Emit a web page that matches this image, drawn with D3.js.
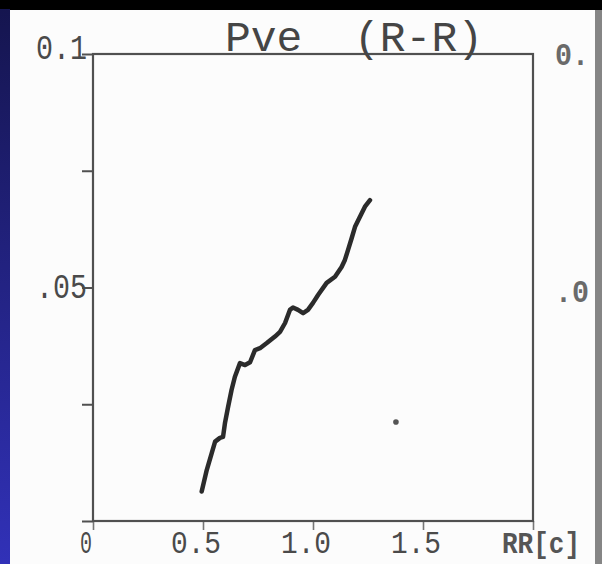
<!DOCTYPE html>
<html>
<head>
<meta charset="utf-8">
<script src="https://cdn.jsdelivr.net/npm/d3@7/dist/d3.min.js"></script>
<style>
html,body{margin:0;padding:0;background:#000;}
svg{display:block;}
</style>
</head>
<body>
<script>
// ---- data ----
const rrValues = [0.494,0.517,0.540,0.555,0.577,0.591,0.600,0.614,0.630,0.645,0.668,0.691,0.714,0.736,0.759,0.790,0.827,0.850,0.873,0.895,0.909,0.932,0.955,0.977,1.000,1.023,1.062,1.100,1.130,1.145,1.159,1.176,1.191,1.214,1.236,1.259];
const pveValues = [0.0063,0.0109,0.0146,0.0170,0.0178,0.0180,0.0210,0.0244,0.0281,0.0309,0.0338,0.0334,0.0340,0.0366,0.0370,0.0381,0.0395,0.0405,0.0424,0.0452,0.0457,0.0452,0.0445,0.0452,0.0467,0.0484,0.0510,0.0523,0.0544,0.0559,0.0580,0.0606,0.0630,0.0652,0.0673,0.0687];
const strayPoint = [1.377, 0.0212];
const xTicks = [0, 0.5, 1.0, 1.5, 2.0];
const xTickLabels = ["0", "0.5", "1.0", "1.5", ""];
const yTicks = [0, 0.025, 0.05, 0.075, 0.1];
const yTickLabels = ["", "", ".05", "", "0.1"];
const titleText = "Pve  (R-R)";
const xUnitLabel = "RR[c]";
const neighbourLabels = ["0.", ".0"];

const W = 602, H = 564;
const svg = d3.select("body").append("svg").attr("width", W).attr("height", H);

// background: dark slide frame
const defs = svg.append("defs");
const g1 = defs.append("linearGradient").attr("id","blue").attr("x1",0).attr("y1",0).attr("x2",0).attr("y2",1);
g1.append("stop").attr("offset","0%").attr("stop-color","#15154f");
g1.append("stop").attr("offset","100%").attr("stop-color","#3131b8");
svg.append("rect").attr("x",0).attr("y",0).attr("width",W).attr("height",H).attr("fill","#000");
svg.append("rect").attr("x",0).attr("y",9).attr("width",10).attr("height",H-9).attr("fill","url(#blue)");
svg.append("rect").attr("x",10).attr("y",10).attr("width",585).attr("height",H-10).attr("fill","#fcfcfc");

const x = d3.scaleLinear().domain([0, 2]).range([93, 533]);
const y = d3.scaleLinear().domain([0, 0.1]).range([521, 54]);

const ink = "#505050";
const fontFam = "'Liberation Mono', 'DejaVu Sans Mono', monospace";

// axes via d3
const yAxis = d3.axisLeft(y).tickValues(yTicks).tickSize(11).tickFormat("");
const yG = svg.append("g").attr("transform", `translate(${x(0)},0)`).call(yAxis);
yG.select(".domain").remove();
yG.selectAll(".tick line").attr("stroke", ink).attr("stroke-width", 2);

const xAxis = d3.axisBottom(x).tickValues(xTicks).tickSize(9).tickFormat("");
const xG = svg.append("g").attr("transform", `translate(0,${y(0)})`).call(xAxis);
xG.select(".domain").remove();
xG.selectAll(".tick line").attr("stroke", "#777").attr("stroke-width", 1.6);

// frame
svg.append("rect")
  .attr("x", x(0)).attr("y", y(0.1))
  .attr("width", x(2) - x(0)).attr("height", y(0) - y(0.1))
  .attr("fill", "none").attr("stroke", ink).attr("stroke-width", 2.2);

// y tick labels
svg.append("g").selectAll("text")
  .data(yTicks.map((v,i)=>({v, t:yTickLabels[i]})).filter(d=>d.t))
  .join("text")
  .attr("x", 87)
  .attr("y", d => y(d.v) + (d.v === 0.1 ? 5 : 10))
  .attr("text-anchor", "end")
  .attr("font-family", fontFam).attr("font-size", 35)
  .attr("textLength", d => d.t.length * 17).attr("lengthAdjust", "spacingAndGlyphs")
  .attr("fill", "#4a4a4a")
  .text(d => d.t);

// x tick labels
svg.append("g").selectAll("text")
  .data(xTicks.map((v,i)=>({v, t:xTickLabels[i]})).filter(d=>d.t))
  .join("text")
  .attr("x", d => x(d.v) - 7)
  .attr("y", 553)
  .attr("text-anchor", "middle")
  .attr("font-family", fontFam).attr("font-size", 31)
  .attr("textLength", d => d.t.length === 1 ? 12 : d.t.length * 16.7).attr("lengthAdjust", "spacingAndGlyphs")
  .attr("fill", "#4a4a4a")
  .text(d => d.t);

svg.append("text")
  .attr("x", x(2) - 31).attr("y", 553)
  .attr("font-family", fontFam).attr("font-size", 29).attr("font-weight", "bold")
  .attr("textLength", 78).attr("lengthAdjust", "spacingAndGlyphs")
  .attr("fill", "#555")
  .text(xUnitLabel);

// title
svg.append("text")
  .attr("x", 354).attr("y", 51)
  .attr("text-anchor", "middle")
  .attr("font-family", fontFam).attr("font-size", 43)
  .attr("fill", "#454545")
  .style("white-space", "pre")
  .attr("xml:space", "preserve")
  .text(titleText);

// neighbour chart labels (partly visible at right edge)
svg.append("g").selectAll("text")
  .data(neighbourLabels)
  .join("text")
  .attr("x", 555)
  .attr("y", (d,i) => i === 0 ? y(0.1) + 11 : y(0.05) + 14)
  .attr("font-family", fontFam).attr("font-size", 32).attr("font-weight", "bold")
  .attr("textLength", d => d.length * 17).attr("lengthAdjust", "spacingAndGlyphs")
  .attr("fill", "#6a6a6a")
  .text(d => d);

// data line
const pts = rrValues.map((v,i)=>[v, pveValues[i]]);
svg.append("path")
  .datum(pts)
  .attr("d", d3.line().x(d=>x(d[0])).y(d=>y(d[1])).curve(d3.curveLinear))
  .attr("fill", "none").attr("stroke", "#2b2b2b").attr("stroke-width", 4.5)
  .attr("stroke-linejoin", "round").attr("stroke-linecap", "round");

svg.append("circle")
  .attr("cx", x(strayPoint[0])).attr("cy", y(strayPoint[1]))
  .attr("r", 2.8).attr("fill", "#555");

// right gray strip
svg.append("rect").attr("x",595).attr("y",10).attr("width",7).attr("height",H-10).attr("fill","#858585");
</script>
</body>
</html>
